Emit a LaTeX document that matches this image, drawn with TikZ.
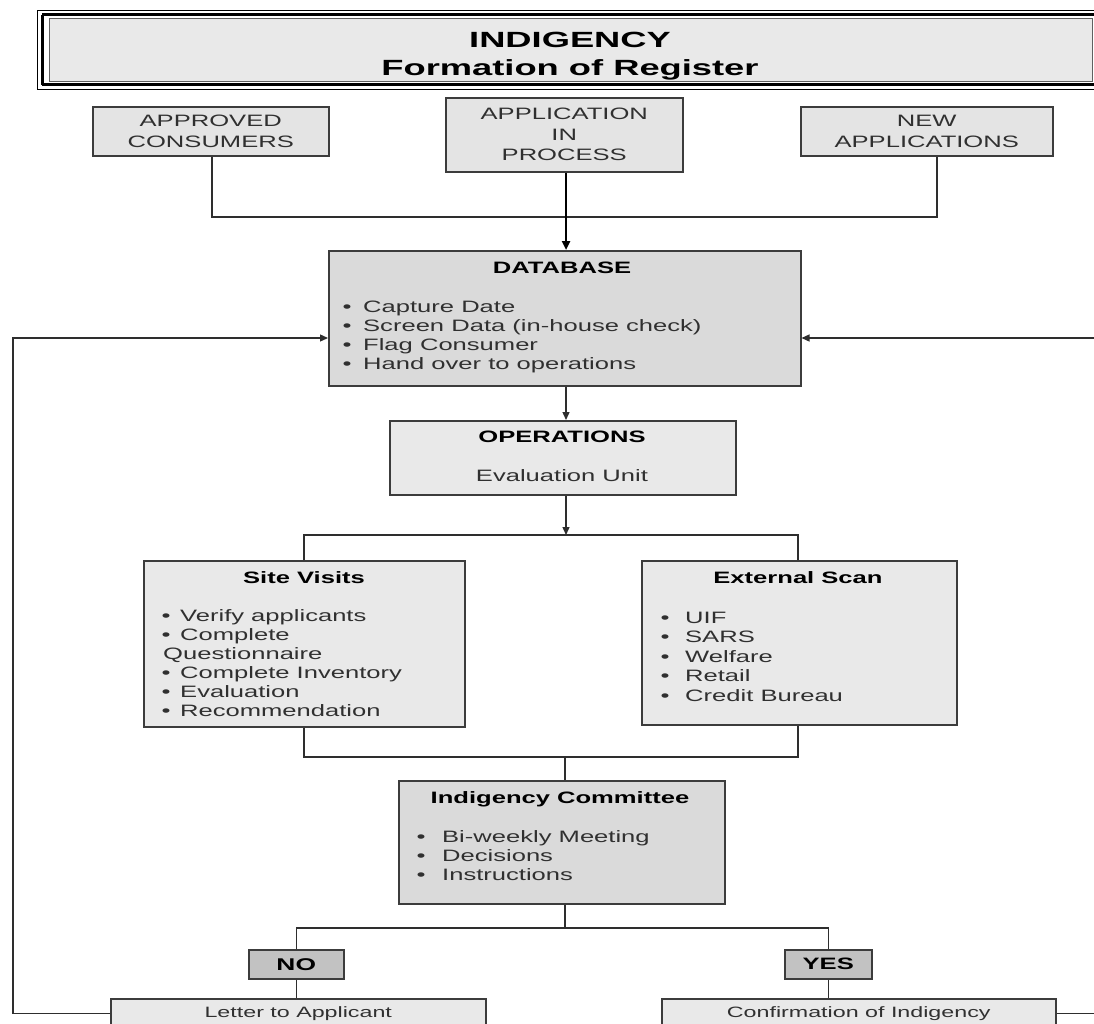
\documentclass[tikz,border=0pt]{standalone}
\usepackage{fontspec}
\setmainfont{Liberation Sans}[FakeStretch=1.55]
\newfontfamily\titlefont{Liberation Sans}[FakeStretch=1.65]
\usetikzlibrary{arrows.meta}
\definecolor{boxfill}{HTML}{E4E4E4}
\definecolor{darkfill}{HTML}{DADADA}
\definecolor{lightfill}{HTML}{E9E9E9}
\definecolor{tagfill}{HTML}{C2C2C2}
\definecolor{bordc}{HTML}{3C3C3C}
\definecolor{linec}{HTML}{2E2E2E}
\definecolor{txtc}{HTML}{303030}
\begin{document}
\begin{tikzpicture}[x=1pt,y=-1pt,
  box/.style={draw=bordc, line width=1.5pt, fill=boxfill, inner sep=0pt,
    rectangle, anchor=north west},
  txt/.style={inner sep=0pt, font=\fontsize{16.5pt}{19pt}\selectfont, text=txtc},
  capsbox/.style={box, align=center, text=txtc,
    font=\fontsize{16.5pt}{20.5pt}\selectfont},
  hd/.style={inner sep=0pt, font=\fontsize{16.5pt}{19pt}\selectfont\bfseries,
    text=black, anchor=base},
  item/.style={txt, anchor=base west},
  conn/.style={draw=linec, line width=1.3pt},
  arr/.style={conn, -{Triangle[length=8pt,width=7pt]}},
  bigarr/.style={draw=black, line width=2.3pt, -{Triangle[length=9pt,width=8pt]}}
]
\useasboundingbox (0,0) rectangle (1094,1023);
\clip (0,0) rectangle (1094,1023);

% ---- title banner with its double frame ----
\draw[black, line width=1pt] (37,10) rectangle (1110,89.5);
\draw[black, line width=2.6pt] (43,14.5) rectangle (1110,84.5);
\draw[black, line width=2pt] (41.5,14.5) -- (41.5,84.5);
\node[box, draw=gray!75!black, line width=1.2pt, fill=lightfill,
  minimum width=1043pt, minimum height=63pt] (title) at (49,18) {};
\node[inner sep=0pt, anchor=base, font=\titlefont\fontsize{22pt}{27pt}\selectfont\bfseries]
  (title1) at (570,47) {INDIGENCY};
\node[inner sep=0pt, anchor=base, font=\titlefont\fontsize{22pt}{27pt}\selectfont\bfseries]
  (title2) at (570,75) {Formation of Register};

% ---- sources ----
\node[capsbox, minimum width=236pt, minimum height=49pt] (approved) at (92,106)
  {APPROVED\\CONSUMERS};
\node[capsbox, minimum width=237pt, minimum height=74pt] (applic) at (445,97)
  {APPLICATION\\IN\\PROCESS};
\node[capsbox, minimum width=252pt, minimum height=49pt] (newapp) at (800,106)
  {NEW\\APPLICATIONS};

% ---- database ----
\node[box, fill=darkfill, minimum width=472pt, minimum height=135pt] (db) at (328,250) {};
\node[hd] (dbh) at (562,273) {DATABASE};
\foreach \t [count=\i from 0] in {{Capture Date},{Screen Data (in-house check)},
    {Flag Consumer},{Hand over to operations}}
  \node[item] (dbi\i) at (342.5,312+19*\i) {\makebox[20.5pt][l]{\textbullet}\t};

% ---- operations ----
\node[box, fill=lightfill, minimum width=346pt, minimum height=74pt] (ops) at (389,420) {};
\node[hd] (opsh) at (562,442) {OPERATIONS};
\node[txt, anchor=base] (opst) at (562,481) {Evaluation Unit};

% ---- site visits ----
\node[box, fill=lightfill, minimum width=321pt, minimum height=166pt] (site) at (143,560) {};
\node[hd] (siteh) at (304,583) {Site Visits};
\node[item] (si1) at (161.5,621) {\makebox[18.5pt][l]{\textbullet}Verify applicants};
\node[item] (si2) at (161.5,640) {\makebox[18.5pt][l]{\textbullet}Complete};
\node[item] (si3) at (163,659) {Questionnaire};
\node[item] (si4) at (161.5,678) {\makebox[18.5pt][l]{\textbullet}Complete Inventory};
\node[item] (si5) at (161.5,697) {\makebox[18.5pt][l]{\textbullet}Evaluation};
\node[item] (si6) at (161.5,716) {\makebox[18.5pt][l]{\textbullet}Recommendation};

% ---- external scan ----
\node[box, fill=lightfill, minimum width=315pt, minimum height=164pt] (ext) at (641,560) {};
\node[hd] (exth) at (798,583) {External Scan};
\foreach \t [count=\i from 0] in {UIF,SARS,Welfare,Retail,{Credit Bureau}}
  \node[item] (exi\i) at (660.5,623+19.5*\i) {\makebox[24.5pt][l]{\textbullet}\t};

% ---- committee ----
\node[box, fill=darkfill, minimum width=326pt, minimum height=123pt] (comm) at (398,780) {};
\node[hd] (commh) at (560,803) {Indigency Committee};
\foreach \t [count=\i from 0] in {{Bi-weekly Meeting},Decisions,Instructions}
  \node[item] (cmi\i) at (416.5,842+19*\i) {\makebox[25.5pt][l]{\textbullet}\t};

% ---- decisions ----
\node[box, fill=tagfill, minimum width=95pt, minimum height=29pt,
  font=\fontsize{17pt}{19pt}\selectfont\bfseries] (no) at (248,949) {NO};
\node[box, fill=tagfill, minimum width=87pt, minimum height=29pt,
  font=\fontsize{16.5pt}{19pt}\selectfont\bfseries] (yes) at (784,949) {YES};
\node[box, fill=lightfill, minimum width=375pt, minimum height=30pt, text=txtc,
  font=\fontsize{15pt}{17pt}\selectfont] (letter) at (110,998) {Letter to Applicant};
\node[box, fill=lightfill, minimum width=394pt, minimum height=30pt, text=txtc,
  font=\fontsize{15pt}{17pt}\selectfont] (confirm) at (661,998) {Confirmation of Indigency};

% ---- junction points ----
\coordinate (spine) at (566,0);
\coordinate (ja) at (212,217);
\coordinate (jn) at (937,217);
\coordinate (sj) at (304,535);
\coordinate (ej) at (798,535);
\coordinate (cj) at (565,757);
\coordinate (dj) at (565,928);
\coordinate (fl) at (13,338);
\coordinate (fr) at (1120,338);

% ---- connectors ----
\draw[conn] (approved.south -| ja) -- (ja) -- (jn) -- (newapp.south -| jn);
\draw[bigarr] (applic.south -| spine) -- (db.north -| spine);
\draw[arr] (db.south -| spine) -- (ops.north -| spine);
\draw[arr] (ops.south -| spine) -- (spine |- sj);
\draw[conn] (site.north -| sj) -- (sj) -- (ej) -- (ext.north -| ej);
\draw[conn] (site.south -| sj) |- (cj) -| (ext.south -| ej);
\draw[conn] (cj) -- (comm.north -| cj);
\draw[conn] (comm.south -| dj) -- (dj);
\draw[conn] (no.north) |- (dj) -| (yes.north);
\draw[conn] (no.south) -- (no.south |- letter.north);
\draw[conn] (yes.south) -- (yes.south |- confirm.north);
\draw[arr] (letter.west) -| (fl) -- (db.west |- fl);
\draw[arr] (confirm.east) -| (fr) -- (db.east |- fr);
\end{tikzpicture}
\end{document}
